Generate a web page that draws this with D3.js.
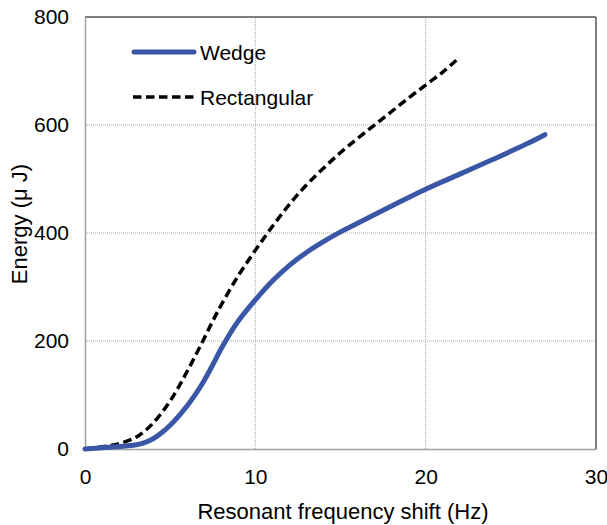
<!DOCTYPE html>
<html>
<head>
<meta charset="utf-8">
<script src="https://cdn.jsdelivr.net/npm/d3@7"></script>
<style>
  html, body { margin: 0; padding: 0; background: #fff; }
  svg { display: block; }
  text { font-family: "Liberation Sans", Arial, sans-serif; fill: #000; }
</style>
</head>
<body>
<svg id="chart" width="607" height="525"></svg>
<script>
// ---- data ----
const xTicks = [0, 10, 20, 30];
const yTicks = [0, 200, 400, 600, 800];

const wedgeX = [0, 1, 2, 3, 3.5, 4, 4.5, 5, 5.5, 6, 6.5, 7, 7.5, 8, 8.5, 9, 10, 11, 12, 13, 14, 15, 16, 18, 20, 22, 24, 26, 27];
const wedgeY = [0, 2.5, 4.5, 8, 12, 19, 30, 44, 61, 80, 102, 127, 156, 186, 213, 237, 276, 311, 340, 364, 384, 402, 418, 450, 481, 509, 537, 566, 582];

const rectX = [0, 1, 2, 3, 3.5, 4, 4.5, 5, 5.5, 6, 6.5, 7, 7.5, 8, 9, 10, 11, 12, 13, 14, 15, 16, 17, 18, 19, 20, 21, 21.8];
const rectY = [0, 4, 10, 22, 33, 48, 67, 89, 115, 144, 174, 205, 237, 267, 321, 368, 412, 453, 489, 520, 549, 575, 600, 625, 650, 674, 698, 720];

const seriesNames = ["Wedge", "Rectangular"];
const xTitle = "Resonant frequency shift (Hz)";
const yTitle = "Energy (\u03bc J)";

// ---- drawing ----
const svg = d3.select("#chart");
const x = d3.scaleLinear().domain([0, 30]).range([85, 596]);
const y = d3.scaleLinear().domain([0, 800]).range([449, 17]);

// gridlines
const grid = svg.append("g");
grid.selectAll("line.gx").data(xTicks.slice(1, -1)).enter().append("line")
  .attr("x1", d => x(d)).attr("x2", d => x(d))
  .attr("y1", y(0)).attr("y2", y(800))
  .attr("stroke", "#a8a8a8").attr("stroke-width", 1).attr("stroke-dasharray", "1,1");
grid.selectAll("line.gy").data(yTicks.slice(1, -1)).enter().append("line")
  .attr("x1", x(0)).attr("x2", x(30))
  .attr("y1", d => y(d)).attr("y2", d => y(d))
  .attr("stroke", "#a8a8a8").attr("stroke-width", 1).attr("stroke-dasharray", "1,1");

// plot border: top/right dark, left/bottom grey axes
svg.append("line").attr("x1", x(0)).attr("x2", x(30)).attr("y1", y(800)).attr("y2", y(800))
  .attr("stroke", "#555").attr("stroke-width", 1.5);
svg.append("line").attr("x1", x(30)).attr("x2", x(30)).attr("y1", y(800)).attr("y2", y(0))
  .attr("stroke", "#555").attr("stroke-width", 1.5);

// axes
const xAxis = d3.axisBottom(x).tickValues(xTicks).tickSize(0).tickPadding(20).tickFormat(d3.format("d"));
const yAxis = d3.axisLeft(y).tickValues(yTicks).tickSize(0).tickPadding(16).tickFormat(d3.format("d"));

const gx = svg.append("g").attr("transform", `translate(0,${y(0)})`).call(xAxis);
const gy = svg.append("g").attr("transform", `translate(${x(0)},0)`).call(yAxis);
[gx, gy].forEach(g => {
  g.select(".domain").attr("stroke", "#a0a0a0").attr("stroke-width", 1.5);
  g.selectAll("text").style("font-family", '"Liberation Sans", Arial, sans-serif')
    .style("font-size", "21px").attr("fill", "#000");
});

// lines
const line = d3.line().x(d => x(d[0])).y(d => y(d[1])).curve(d3.curveCatmullRom.alpha(0.5));
const wedge = wedgeX.map((v, i) => [v, wedgeY[i]]);
const rect = rectX.map((v, i) => [v, rectY[i]]);

svg.append("path").datum(rect).attr("d", line)
  .attr("fill", "none").attr("stroke", "#000").attr("stroke-width", 3.5)
  .attr("stroke-dasharray", "8.5,4.5");
svg.append("path").datum(wedge).attr("d", line)
  .attr("fill", "none").attr("stroke", "#3A57A7").attr("stroke-width", 5)
  .attr("stroke-linecap", "round");

// legend
const legend = svg.append("g");
const legY = [52, 97];
legend.append("line").attr("x1", 134).attr("x2", 194).attr("y1", legY[0]).attr("y2", legY[0])
  .attr("stroke", "#3A57A7").attr("stroke-width", 5).attr("stroke-linecap", "round");
legend.append("line").attr("x1", 133).attr("x2", 196).attr("y1", legY[1]).attr("y2", legY[1])
  .attr("stroke", "#000").attr("stroke-width", 3.5).attr("stroke-dasharray", "8.5,4.5");
legend.selectAll("text").data(seriesNames).enter().append("text")
  .attr("x", 200).attr("y", (d, i) => legY[i] + 7.5)
  .style("font-size", "21px").text(d => d);

// titles
svg.append("text").attr("x", 343).attr("y", 519)
  .attr("text-anchor", "middle").style("font-size", "22px").text(xTitle);
svg.append("text").attr("transform", "translate(27,224) rotate(-90)")
  .attr("text-anchor", "middle").style("font-size", "22px").text(yTitle);
</script>
</body>
</html>
